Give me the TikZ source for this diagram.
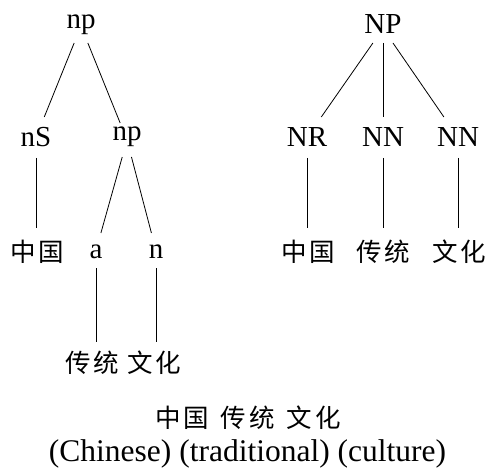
\documentclass[tikz,border=0pt]{standalone}
\usepackage{fontspec}
\setmainfont{Liberation Serif}
\newfontfamily\cjkf{Noto Sans CJK SC}
\newcommand\twoch[2]{#1\hspace{3bp}#2}
\tikzset{
  lab/.style={font=\fontsize{29bp}{34bp}\selectfont, inner sep=0pt, outer sep=0pt, anchor=base},
  zh/.style={font=\cjkf\fontsize{25.5bp}{30bp}\selectfont, inner sep=0pt, outer sep=0pt, anchor=base},
  edge/.style={line width=0.8bp, draw=black}
}
\begin{document}
\begin{tikzpicture}[x=1bp,y=-1bp]
\useasboundingbox (0,0) rectangle (487,468);
% left tree
\node[lab, text height=20bp, text depth=14bp] (L0) at (81,29) {np};
\node[lab, text height=30bp, text depth=11bp] (L1) at (36,147) {nS};
\node[lab, text height=18bp, text depth=16bp] (L2) at (127,141) {np};
\node[zh, text height=33bp, text depth=4bp] (L3) at (37.5,261) {\twoch{中}{国}};
\node[lab, text height=25bp, text depth=10bp] (La) at (96,258) {a};
\node[lab, text height=25bp, text depth=10bp] (Ln) at (156,258) {n};
\node[zh, text height=30bp, text depth=4bp] (W1) at (92,372) {\twoch{传}{统}};
\node[zh, text height=30bp, text depth=4bp] (W2) at (154,372) {\twoch{文}{化}};
\draw[edge] (L0) -- (L1);
\draw[edge] (L0) -- (L2);
\draw[edge] (L1) -- (L1 |- L3.north);
\draw[edge] (L2) -- (La);
\draw[edge] (L2) -- (Ln);
\draw[edge] (La) -- (La |- W1.north);
\draw[edge] (Ln) -- (Ln |- W2.north);
% right tree
\node[lab, text height=20bp, text depth=9bp] (R0) at (383,34) {NP};
\node[lab, text height=30bp, text depth=11bp] (R1) at (307,147) {NR};
\node[lab, text height=30bp, text depth=11bp] (R2) at (383,147) {NN};
\node[lab, text height=30bp, text depth=11bp] (R3) at (458,147) {NN};
\node[zh, text height=33bp, text depth=4bp] (R4) at (308,261) {\twoch{中}{国}};
\node[zh, text height=33bp, text depth=4bp] (R5) at (383,261) {\twoch{传}{统}};
\node[zh, text height=33bp, text depth=4bp] (R6) at (459,261) {\twoch{文}{化}};
\draw[edge] (R0) -- (R1);
\draw[edge] (R0) -- (R2);
\draw[edge] (R0) -- (R3);
\draw[edge] (R1) -- (R1 |- R4.north);
\draw[edge] (R2) -- (R2 |- R5.north);
\draw[edge] (R3) -- (R3 |- R6.north);
% caption
\node[zh] (C1) at (248,427) {\twoch{中}{国}\hspace{12bp}\twoch{传}{统}\hspace{12bp}\twoch{文}{化}};
\node[lab, font=\fontsize{31.5bp}{36bp}\selectfont] (C2) at (247.5,461) {(Chinese) (traditional) (culture)};
\end{tikzpicture}
\end{document}
